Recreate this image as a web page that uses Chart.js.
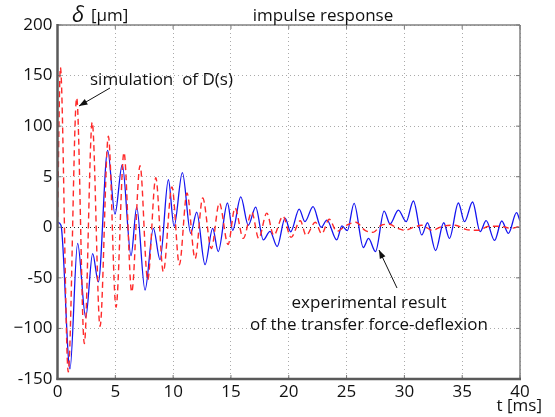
<!DOCTYPE html>
<html>
<head>
<meta charset="utf-8">
<script src="https://cdn.jsdelivr.net/npm/chart.js@4.4.1/dist/chart.umd.min.js"></script>
<style>
  html, body { margin: 0; padding: 0; background: #fff; }
  #wrap { width: 555px; height: 417px; }
</style>
</head>
<body>
<div id="wrap"><canvas id="myChart" width="555" height="417"></canvas></div>
<script>
const fontFamily = "'Open Sans', 'DejaVu Sans', sans-serif";

// simulation of D(s) - red dashed, read at peaks/troughs
const simTime = [0, 0.25, 0.93, 1.66, 2.32, 3.0, 3.68, 4.4, 5.06, 5.75, 6.42, 7.14, 7.8, 8.5, 9.15, 9.9,
  10.54, 11.2, 11.9, 12.56, 13.3, 14.0, 14.75, 15.35, 16.07, 16.8, 17.4, 18.1, 18.7, 19.5, 20.2,
  21.0, 21.5, 22.3, 22.85, 23.5, 24.15, 25.0, 25.8, 26.6, 27.3, 28.0, 28.7, 29.4, 30.0, 30.8,
  31.5, 32.4, 33.3, 34.4, 35.3, 36.4, 37.3, 38.3, 39.2, 40];
const simValue = [0, 158, -143, 128, -115, 104, -98, 90, -79, 74, -64, 61, -52, 49, -44, 40,
  -37, 34, -31, 29, -21, 24, -17, 19, -11, 15, -11, 14, -8, 11, -10,
  6.5, -8, 5, -6.5, 8, -4, 2, 5, -3, -5, 2, 3, -1, -3, 0,
  2, -3, 1, 2, -2, -3, 1, 1, -1, 1];

// experimental result - blue solid
const expTime = [0, 0.3, 1.08, 1.74, 2.44, 3.04, 3.53, 4.34, 4.97, 5.6, 6.36, 6.85, 7.57, 8.29, 8.87,
  9.59, 10.08, 10.8, 11.52, 12.04, 12.76, 13.42, 13.9, 14.7, 15.15, 15.85, 16.5, 17.14, 17.8,
  18.38, 19.0, 19.68, 20.17, 20.9, 21.4, 22.1, 22.8, 23.3, 24.15, 24.6, 25.07, 25.65, 26.45,
  26.9, 27.5, 28.25, 28.76, 29.48, 30.15, 30.78, 31.5, 32.0, 32.7, 33.4, 33.9, 34.67, 35.2,
  35.9, 36.55, 37.07, 37.8, 38.42, 39.0, 39.7, 40];
const expValue = [5, 2, -140, -16, -89, -26, -54, 76, 13, 62, -28, 20, -62, -1, -32,
  47, 1, 54, -6, 15, -37, -1, -24, 24, -3, 30, 2, 20, -12.5,
  -4, -19, 9, -4.5, 18, 5.6, 20.4, 0, 7, -12.5, 1.3, -3.3, 23.7, -20,
  -11, -24, 16, 3.3, 17, 5.6, 26, -7.6, 4.5, -23, 4.5, -11, 24, 5.6,
  25, -4.3, 6.5, -13, 6.2, -6, 14.4, 6.5];

const xTicks = [0, 5, 10, 15, 20, 25, 30, 35, 40];
const yTicks = [200, 150, 100, 50, 0, -50, -100, -150];
const yTickLabels = ["200", "150", "100", "5", "0", "-50", "\u2212100", "-150"];

const toPoints = (xs, ys) => xs.map((x, i) => ({ x, y: ys[i] }));

// box, inward ticks and the text notes
const frame = {
  id: "frame",
  afterDraw(chart) {
    const { ctx, chartArea: a, scales } = chart;
    const line = (x1, y1, x2, y2) => {
      ctx.beginPath();
      ctx.moveTo(x1, y1);
      ctx.lineTo(x2, y2);
      ctx.stroke();
    };
    ctx.save();
    ctx.strokeStyle = "#777";
    ctx.lineWidth = 1;
    xTicks.forEach((v) => {
      const x = scales.x.getPixelForValue(v);
      line(x, a.top, x, a.top + 4);
      line(x, a.bottom, x, a.bottom - 4);
    });
    yTicks.forEach((v) => {
      const y = scales.y.getPixelForValue(v);
      line(a.left, y, a.left + 4, y);
      line(a.right, y, a.right - 4, y);
    });
    ctx.lineWidth = 1.5;
    ctx.strokeStyle = "#808080";
    line(a.left, a.top, a.right, a.top);
    line(a.right, a.top, a.right, a.bottom);
    ctx.lineWidth = 2.5;
    ctx.strokeStyle = "#5a5a5a";
    line(a.left, a.top - 1, a.left, a.bottom + 1);
    line(a.left - 1, a.bottom, a.right + 1, a.bottom);

    ctx.fillStyle = "#111";
    ctx.textBaseline = "alphabetic";
    ctx.textAlign = "center";
    ctx.font = `17px ${fontFamily}`;
    ctx.fillText("impulse response", 323, 21);
    ctx.textAlign = "left";
    ctx.font = `italic 22px ${fontFamily}`;
    ctx.fillText("\u03b4", 72, 22);
    ctx.font = `17px ${fontFamily}`;
    ctx.fillText("[\u00b5m]", 91, 21);
    ctx.fillText("simulation  of D(s)", 90, 85);
    ctx.textAlign = "center";
    ctx.fillText("experimental result", 369, 308);
    ctx.fillText("of the transfer force-deflexion", 369, 330);
    ctx.textAlign = "right";
    ctx.fillText("t [ms]", 542, 411);

    const arrow = (x1, y1, x2, y2) => {
      ctx.strokeStyle = "#111";
      ctx.fillStyle = "#111";
      ctx.lineWidth = 1;
      line(x1, y1, x2, y2);
      const ang = Math.atan2(y2 - y1, x2 - x1);
      const len = 9, w = 0.35;
      ctx.beginPath();
      ctx.moveTo(x2, y2);
      ctx.lineTo(x2 - len * Math.cos(ang - w), y2 - len * Math.sin(ang - w));
      ctx.lineTo(x2 - len * Math.cos(ang + w), y2 - len * Math.sin(ang + w));
      ctx.closePath();
      ctx.fill();
    };
    arrow(110, 88, 79, 106);
    arrow(397, 288, 379, 250);
    ctx.restore();
  },
};

const ctx = document.getElementById("myChart");

const grafico = new Chart(ctx, {
  type: "line",
  data: {
    datasets: [
      {
        label: "simulation of D(s)",
        data: toPoints(simTime, simValue),
        borderColor: "#ff2a2a",
        borderWidth: 1.4,
        borderDash: [6, 4],
        pointRadius: 0,
        cubicInterpolationMode: "monotone",
      },
      {
        label: "experimental result",
        data: toPoints(expTime, expValue),
        borderColor: "#1414f0",
        borderWidth: 1.3,
        pointRadius: 0,
        cubicInterpolationMode: "monotone",
      },
    ],
  },
  options: {
    responsive: false,
    animation: false,
    devicePixelRatio: 1,
    layout: { padding: { left: 0, right: 35, top: 25, bottom: 0 } },
    plugins: {
      legend: { display: false },
      tooltip: { enabled: false },
    },
    scales: {
      x: {
        type: "linear",
        min: 0,
        max: 40,
        afterFit: (s) => { s.height = 38; },
        afterBuildTicks: (s) => { s.ticks = xTicks.map((v) => ({ value: v })); },
        ticks: { padding: 3, color: "#111", font: { family: fontFamily, size: 17 }, maxRotation: 0 },
        grid: { drawTicks: false, color: "#aaa", lineWidth: 1 },
        border: { display: false, dash: [1, 3] },
      },
      y: {
        min: -150,
        max: 200,
        afterFit: (s) => { s.width = 57.5; },
        afterBuildTicks: (s) => { s.ticks = yTicks.map((v) => ({ value: v })); },
        ticks: {
          padding: 5,
          color: "#111",
          font: { family: fontFamily, size: 17 },
          callback: (v) => yTickLabels[yTicks.indexOf(v)],
        },
        grid: {
          drawTicks: false,
          color: (c) => (c.tick && c.tick.value === 0 ? "#222" : "#aaa"),
          lineWidth: 1,
        },
        border: { display: false, dash: [1, 3] },
      },
    },
  },
  plugins: [frame],
});
</script>
</body>
</html>
